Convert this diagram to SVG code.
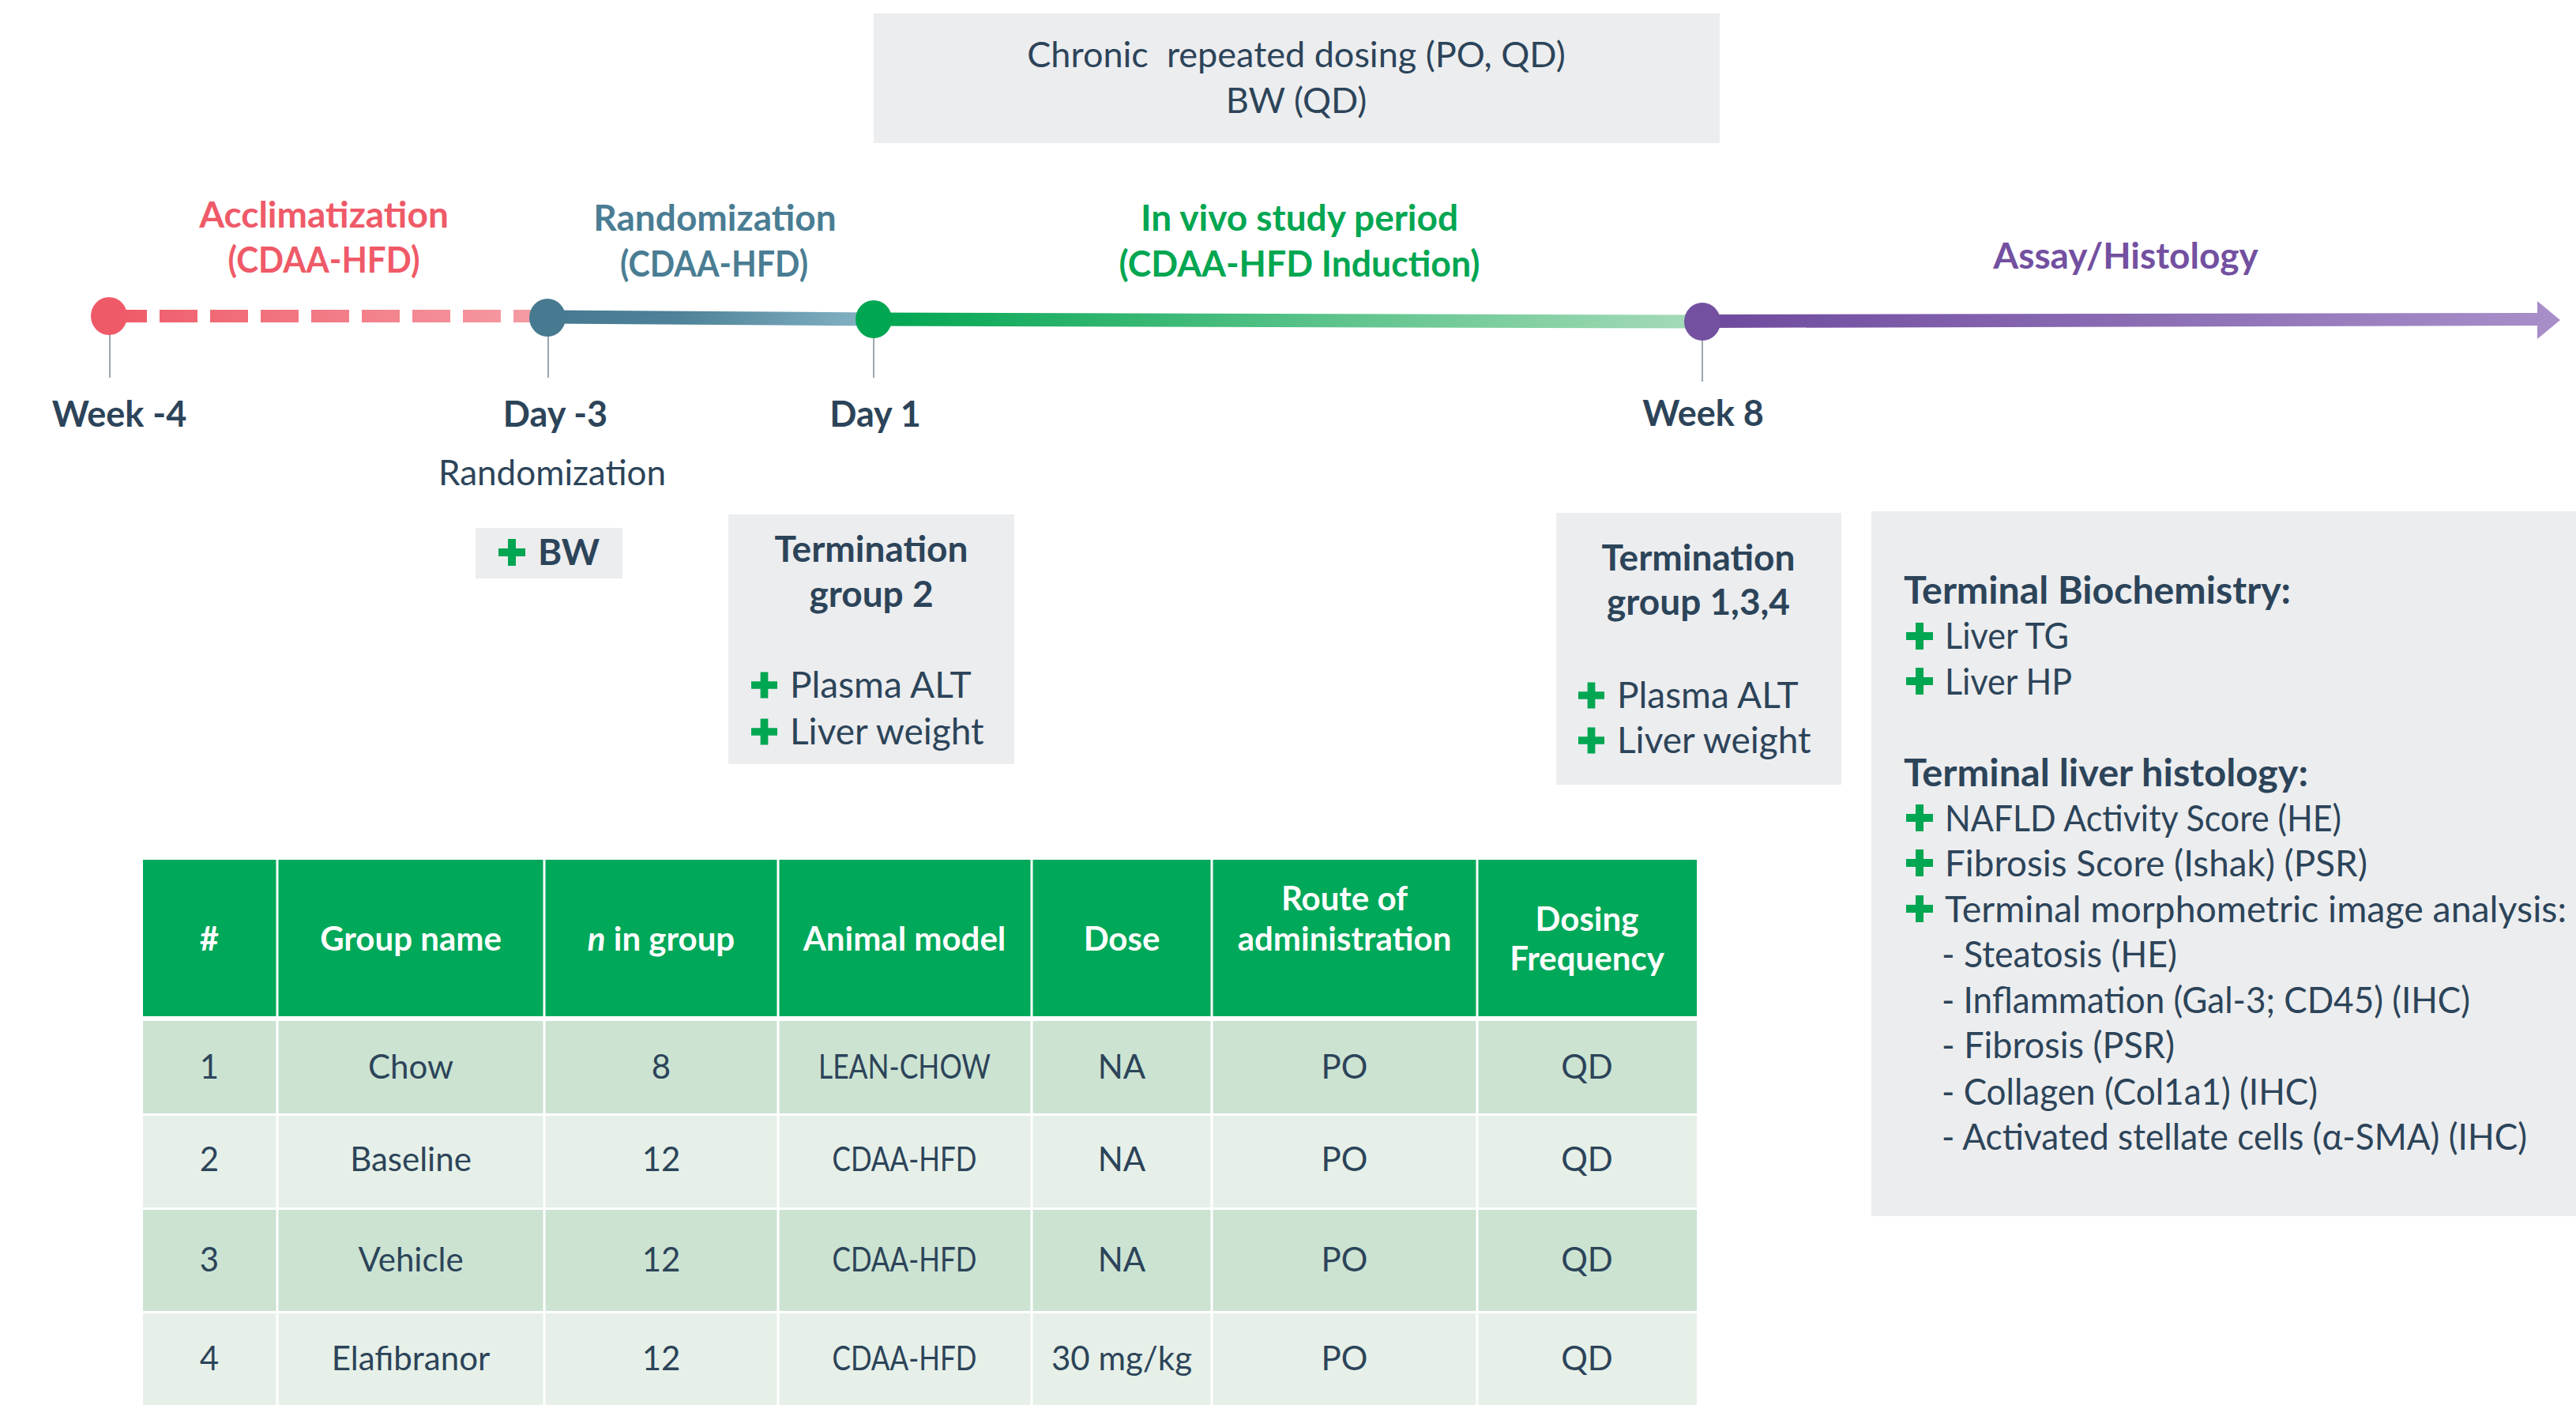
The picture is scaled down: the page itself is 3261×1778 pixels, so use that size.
<svg xmlns="http://www.w3.org/2000/svg" xmlns:xlink="http://www.w3.org/1999/xlink" width="3261" height="1778" viewBox="0 0 3261 1778">
<style>
text{font-family:Lato,"Liberation Sans",sans-serif;}
.dk{fill:#2C4459;}
.b{font-weight:700;}
.mid{text-anchor:middle;}
.box{fill:#ECEDEF;}
.tick{stroke:#9EA6AE;stroke-width:2;}
.hd{fill:#FFFFFF;font-weight:700;font-size:42px;text-anchor:middle;}
.cell{fill:#2C4459;font-size:42px;text-anchor:middle;}
.lbl{font-size:46px;font-weight:700;fill:#2C4459;text-anchor:middle;}
.tl{font-size:45px;font-weight:700;fill:#2C4459;text-anchor:middle;}
.ph{font-size:46px;font-weight:700;text-anchor:middle;}
.it{font-size:46px;fill:#2C4459;}
</style>
<defs>
<symbol id="plus" viewBox="0 0 34 34"><path d="M12 0h10v12h12v10H22v12H12V22H0V12h12z" fill="#00A651"/></symbol>
<linearGradient id="gRed" gradientUnits="userSpaceOnUse" x1="138" y1="0" x2="690" y2="0"><stop offset="0" stop-color="#EF5A68"/><stop offset="1" stop-color="#F59CA4"/></linearGradient>
<linearGradient id="gTeal" gradientUnits="userSpaceOnUse" x1="693" y1="0" x2="1106" y2="0"><stop offset="0" stop-color="#457A90"/><stop offset="0.4" stop-color="#4D8298"/><stop offset="1" stop-color="#86B4C5"/></linearGradient>
<linearGradient id="gGreen" gradientUnits="userSpaceOnUse" x1="1106" y1="0" x2="2155" y2="0"><stop offset="0" stop-color="#00A651"/><stop offset="1" stop-color="#A6DBB9"/></linearGradient>
<linearGradient id="gPurple" gradientUnits="userSpaceOnUse" x1="2155" y1="0" x2="3241" y2="0"><stop offset="0" stop-color="#6E4A9E"/><stop offset="1" stop-color="#A88FC9"/></linearGradient>
</defs>
<rect width="3261" height="1778" fill="#FFFFFF"/>

<g id="dosing-box">
<rect class="box" x="1106" y="17" width="1071" height="164"/>
<text class="dk mid" x="1641" y="85" font-size="45" xml:space="preserve">Chronic  repeated dosing (PO, QD)</text>
<text class="dk mid" x="1641" y="143" font-size="45">BW (QD)</text>
</g>

<g id="connectors">
<line class="tick" x1="139" y1="410" x2="139" y2="478"/>
<line class="tick" x1="694" y1="410" x2="694" y2="478"/>
<line class="tick" x1="1106" y1="410" x2="1106" y2="478"/>
<line class="tick" x1="2155" y1="410" x2="2155" y2="483"/>
<line x1="138" y1="400" x2="680" y2="400" stroke="url(#gRed)" stroke-width="16" stroke-dasharray="48 16"/>
<line x1="693" y1="401" x2="1106" y2="404" stroke="url(#gTeal)" stroke-width="17"/>
<line x1="1106" y1="404" x2="2155" y2="407" stroke="url(#gGreen)" stroke-width="17"/>
<path d="M2155 398 L3212 396 L3212 381 L3241 405 L3212 429 L3212 412 L2155 415 Z" fill="url(#gPurple)"/>
</g>

<g id="node-week-4">
<ellipse cx="138" cy="400" rx="23" ry="24" fill="#EF5A68"/>
<text class="tl" x="151" y="540">Week -4</text>
</g>
<g id="node-day-3">
<ellipse cx="693" cy="402" rx="23" ry="24" fill="#477A90"/>
<text class="tl" x="703" y="540">Day -3</text>
<text class="dk mid" x="699" y="614" font-size="44">Randomization</text>
</g>
<g id="node-day1">
<ellipse cx="1106" cy="404" rx="23" ry="24" fill="#00A651"/>
<text class="tl" x="1108" y="540">Day 1</text>
</g>
<g id="node-week8">
<ellipse cx="2155" cy="407" rx="23" ry="24" fill="#7350A0"/>
<text class="tl" x="2156" y="539">Week 8</text>
</g>

<g id="phase-labels">
<text class="ph" fill="#EF5A68" x="410" y="288">Acclimatization</text>
<text class="ph" fill="#EF5A68" x="410" y="345" textLength="243" lengthAdjust="spacingAndGlyphs">(CDAA-HFD)</text>
<text class="ph" fill="#4A7D93" x="905" y="292">Randomization</text>
<text class="ph" fill="#4A7D93" x="904" y="350" textLength="238" lengthAdjust="spacingAndGlyphs">(CDAA-HFD)</text>
<text class="ph" fill="#00A651" x="1645" y="292">In vivo study period</text>
<text class="ph" fill="#00A651" x="1645" y="350" textLength="457" lengthAdjust="spacingAndGlyphs">(CDAA-HFD Induction)</text>
<text class="ph" fill="#7350A0" x="2691" y="340">Assay/Histology</text>
</g>

<g id="bw-box">
<rect class="box" x="602" y="668" width="186" height="64" fill="#EFF0F1"/>
<use href="#plus" x="631" y="682" width="34" height="34"/>
<text class="dk b" x="681" y="715" font-size="46">BW</text>
</g>

<g id="termination-group2">
<rect class="box" x="922" y="651" width="362" height="316"/>
<text class="lbl" x="1103" y="711">Termination</text>
<text class="lbl" x="1103" y="768">group 2</text>
<use href="#plus" x="951" y="850" width="33" height="34"/>
<text class="it" x="1000" y="883">Plasma ALT</text>
<use href="#plus" x="951" y="909" width="33" height="34"/>
<text class="it" x="1000" y="942">Liver weight</text>
</g>

<g id="termination-group134">
<rect class="box" x="1970" y="649" width="361" height="344"/>
<text class="lbl" x="2150" y="722">Termination</text>
<text class="lbl" x="2150" y="778">group 1,3,4</text>
<use href="#plus" x="1998" y="863" width="33" height="34"/>
<text class="it" x="2047" y="896">Plasma ALT</text>
<use href="#plus" x="1998" y="920" width="33" height="34"/>
<text class="it" x="2047" y="953">Liver weight</text>
</g>

<g id="assay-box">
<rect class="box" x="2369" y="647" width="892" height="892"/>
<text class="dk b" x="2410" y="764" font-size="47" textLength="490" lengthAdjust="spacingAndGlyphs">Terminal Biochemistry:</text>
<use href="#plus" x="2413" y="788" width="34" height="34"/>
<text class="it" x="2462" y="821" textLength="157" lengthAdjust="spacingAndGlyphs">Liver TG</text>
<use href="#plus" x="2413" y="845" width="34" height="34"/>
<text class="it" x="2462" y="879" textLength="161" lengthAdjust="spacingAndGlyphs">Liver HP</text>
<text class="dk b" x="2410" y="995" font-size="47" textLength="512" lengthAdjust="spacingAndGlyphs">Terminal liver histology:</text>
<use href="#plus" x="2413" y="1018" width="34" height="34"/>
<text class="it" x="2462" y="1052" textLength="502" lengthAdjust="spacingAndGlyphs">NAFLD Activity Score (HE)</text>
<use href="#plus" x="2413" y="1075" width="34" height="34"/>
<text class="it" x="2462" y="1109" textLength="535" lengthAdjust="spacingAndGlyphs">Fibrosis Score (Ishak) (PSR)</text>
<use href="#plus" x="2413" y="1133" width="34" height="34"/>
<text class="it" x="2462" y="1167" textLength="787" lengthAdjust="spacingAndGlyphs">Terminal morphometric image analysis:</text>
<text class="it" x="2458" y="1224" textLength="298" lengthAdjust="spacingAndGlyphs">- Steatosis (HE)</text>
<text class="it" x="2458" y="1282" textLength="669" lengthAdjust="spacingAndGlyphs">- Inflammation (Gal-3; CD45) (IHC)</text>
<text class="it" x="2458" y="1339" textLength="295" lengthAdjust="spacingAndGlyphs">- Fibrosis (PSR)</text>
<text class="it" x="2458" y="1398" textLength="476" lengthAdjust="spacingAndGlyphs">- Collagen (Col1a1) (IHC)</text>
<text class="it" x="2458" y="1455" textLength="741" lengthAdjust="spacingAndGlyphs">- Activated stellate cells (α-SMA) (IHC)</text>
</g>

<g id="table">
<rect x="181" y="1088" width="1967" height="198" fill="#00A859"/>
<rect x="181" y="1292" width="1967" height="117" fill="#CCE3D2"/>
<rect x="181" y="1412" width="1967" height="116" fill="#E6F0E8"/>
<rect x="181" y="1531" width="1967" height="128" fill="#CCE3D2"/>
<rect x="181" y="1662" width="1967" height="116" fill="#E6F0E8"/>
<g stroke="#FFFFFF" stroke-width="3">
<line x1="351" y1="1088" x2="351" y2="1778"/>
<line x1="689" y1="1088" x2="689" y2="1778"/>
<line x1="985" y1="1088" x2="985" y2="1778"/>
<line x1="1306" y1="1088" x2="1306" y2="1778"/>
<line x1="1534" y1="1088" x2="1534" y2="1778"/>
<line x1="1870" y1="1088" x2="1870" y2="1778"/>
</g>
<text class="hd" x="265" y="1203">#</text>
<text class="hd" x="520" y="1203">Group name</text>
<text class="hd" x="837" y="1203"><tspan font-style="italic">n</tspan> in group</text>
<text class="hd" x="1145" y="1203">Animal model</text>
<text class="hd" x="1420" y="1203">Dose</text>
<text class="hd" x="1702" y="1152">Route of</text>
<text class="hd" x="1702" y="1203">administration</text>
<text class="hd" x="2009" y="1178">Dosing</text>
<text class="hd" x="2009" y="1228">Frequency</text>

<text class="cell" x="265" y="1365">1</text>
<text class="cell" x="520" y="1365">Chow</text>
<text class="cell" x="837" y="1365">8</text>
<text class="cell" x="1145" y="1365" textLength="218" lengthAdjust="spacingAndGlyphs">LEAN-CHOW</text>
<text class="cell" x="1420" y="1365">NA</text>
<text class="cell" x="1702" y="1365">PO</text>
<text class="cell" x="2009" y="1365">QD</text>

<text class="cell" x="265" y="1482">2</text>
<text class="cell" x="520" y="1482">Baseline</text>
<text class="cell" x="837" y="1482">12</text>
<text class="cell" x="1145" y="1482" textLength="183" lengthAdjust="spacingAndGlyphs">CDAA-HFD</text>
<text class="cell" x="1420" y="1482">NA</text>
<text class="cell" x="1702" y="1482">PO</text>
<text class="cell" x="2009" y="1482">QD</text>

<text class="cell" x="265" y="1609">3</text>
<text class="cell" x="520" y="1609">Vehicle</text>
<text class="cell" x="837" y="1609">12</text>
<text class="cell" x="1145" y="1609" textLength="183" lengthAdjust="spacingAndGlyphs">CDAA-HFD</text>
<text class="cell" x="1420" y="1609">NA</text>
<text class="cell" x="1702" y="1609">PO</text>
<text class="cell" x="2009" y="1609">QD</text>

<text class="cell" x="265" y="1734">4</text>
<text class="cell" x="520" y="1734">Elafibranor</text>
<text class="cell" x="837" y="1734">12</text>
<text class="cell" x="1145" y="1734" textLength="183" lengthAdjust="spacingAndGlyphs">CDAA-HFD</text>
<text class="cell" x="1420" y="1734">30 mg/kg</text>
<text class="cell" x="1702" y="1734">PO</text>
<text class="cell" x="2009" y="1734">QD</text>
</g>
</svg>
